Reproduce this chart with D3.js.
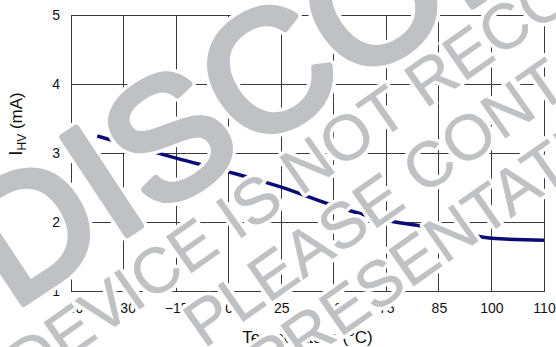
<!DOCTYPE html>
<html><head><meta charset="utf-8">
<script src="https://cdn.jsdelivr.net/npm/d3@7"></script>
<style>html,body{margin:0;padding:0;background:#fff;}svg{display:block;}</style>
</head><body>
<svg id="c" width="556" height="347"></svg>
<script>
const xTicks = [-40, -30, -15, 0, 25, 50, 75, 85, 100, 110];
const yTicks = [1, 2, 3, 4, 5];
const temps = [-35, -30, -15, 0, 25, 50, 75, 85, 100, 110];
const ihv   = [3.25, 3.14, 2.93, 2.73, 2.51, 2.24, 2.03, 1.91, 1.77, 1.74];
const wmLines = ["DISCONTINUED", "DEVICE IS NOT RECOMMENDED FOR NEW DESIGNS", "PLEASE CONTACT YOUR LOCAL SALES", "REPRESENTATIVE"];

const svg = d3.select("#c");
const L = 71, R = 544, T = 15, B = 291.5;
const step = (R - L) / (xTicks.length - 1);
const x = d3.scaleLinear().domain(xTicks).range(xTicks.map((d, i) => L + i * step));
const y = d3.scaleLinear().domain([1, 5]).range([B, T]);
const font = "Liberation Sans, Arial, sans-serif";

// grid
const g = svg.append("g");
g.selectAll("line.v").data(xTicks).join("line")
  .attr("x1", d => x(d)).attr("x2", d => x(d)).attr("y1", T).attr("y2", B)
  .attr("stroke", "#3a3a3a").attr("stroke-width", 1).attr("shape-rendering", "crispEdges");
g.selectAll("line.h").data(yTicks).join("line")
  .attr("x1", L).attr("x2", R).attr("y1", d => y(d)).attr("y2", d => y(d))
  .attr("stroke", "#3a3a3a").attr("stroke-width", 1).attr("shape-rendering", "crispEdges");

// axes labels via d3 axes
const xa = svg.append("g").attr("transform", `translate(0,${B})`)
  .call(d3.axisBottom(x).tickValues(xTicks).tickSize(0).tickPadding(12).tickFormat(d3.format("d")));
xa.select(".domain").remove();
xa.selectAll("text").attr("font-family", font).attr("font-size", 14).attr("fill", "#111");
const ya = svg.append("g").attr("transform", `translate(${L},0)`)
  .call(d3.axisLeft(y).tickValues(yTicks).tickSize(0).tickPadding(11).tickFormat(d3.format("d")));
ya.select(".domain").remove();
ya.selectAll("text").attr("font-family", font).attr("font-size", 14).attr("fill", "#111");

// titles
svg.append("text").attr("x", (L + R) / 2).attr("y", 343).attr("text-anchor", "middle")
  .attr("font-family", font).attr("font-size", 17).attr("fill", "#111").text("Temperature (°C)");
const yt = svg.append("text").attr("transform", "translate(22,124) rotate(-90)").attr("text-anchor", "middle")
  .attr("font-family", font).attr("font-size", 17).attr("fill", "#111");
yt.append("tspan").attr("font-size", 19).text("I");
yt.append("tspan").attr("font-size", 12).attr("dy", 4).text("HV");
yt.append("tspan").attr("dy", -4).text("  (mA)");

// curve
const pts = temps.map((t, i) => [t, ihv[i]]);
svg.append("path").datum(pts)
  .attr("d", d3.line().x(d => x(d[0])).y(d => y(d[1])).curve(d3.curveMonotoneX))
  .attr("fill", "none").attr("stroke", "#0b0b78").attr("stroke-width", 3.5).attr("stroke-linecap", "butt");

// watermark (white halo, then grey letters)
const wm = [
  {t: wmLines[0], x: 12, y: 311, fs: 170, a: -33.5, th: 7},
  {t: wmLines[1], x: 27, y: 388, fs: 64, a: -35, th: 0.5},
  {t: wmLines[2], x: 204, y: 349, fs: 64, a: -35, th: 0.5},
  {t: wmLines[3], x: 194, y: 440, fs: 64, a: -35, th: 0.5}
];
const wg = svg.append("g");
[["#fff", d => d.th + 7], ["#c0c1c5", d => d.th]].forEach(([col, sw]) => {
  wg.append("g").selectAll("text").data(wm).join("text")
    .attr("x", d => d.x).attr("y", d => d.y)
    .attr("transform", d => `rotate(${d.a},${d.x},${d.y})`)
    .attr("font-family", font).attr("font-size", d => d.fs)
    .attr("fill", "#c0c1c5").attr("stroke", col).attr("stroke-width", sw)
    .attr("stroke-linejoin", "round")
    .text(d => d.t);
});
</script>
</body></html>
